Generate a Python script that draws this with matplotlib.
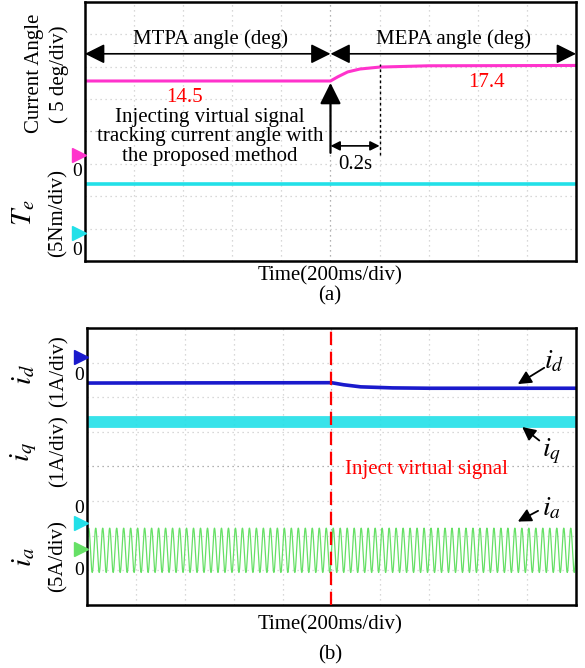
import numpy as np
import matplotlib
matplotlib.use('Agg')
import matplotlib.pyplot as plt

plt.rcParams['font.family'] = ['Liberation Serif', 'DejaVu Serif']
plt.rcParams['mathtext.fontset'] = 'stix'

# Scope traces, y in screen divisions (0..8), time in s (0.2 s/div)
t_angle = [0.0, 1.0, 1.03, 1.07, 1.12, 1.2, 1.4, 2.0]
angle_div = [5.56, 5.56, 5.69, 5.84, 5.93, 5.99, 6.03, 6.04]
t_te = [0.0, 2.0]
te_div = [2.38, 2.38]
marker_a = [3.28, 0.87]          # magenta, cyan ground markers

t_id = [0.0, 1.0, 1.05, 1.12, 1.25, 1.4, 2.0]
id_div = [6.41, 6.42, 6.36, 6.30, 6.27, 6.26, 6.26]
t_iq = [0.0, 2.0]
iq_div = [5.28, 5.28]
ia_center = 1.58
ia_amp = 0.64
ia_freq = 35.0                    # Hz, counted from the trace
marker_b = [7.16, 2.36, 1.61]     # blue, cyan, green ground markers

MAG = '#ff33cc'
CYAN = '#22e0e8'
BLUE = '#1a1acc'
GREEN = '#66e066'
FS = 15


def scope_axes(ax):
    ax.set_xlim(0, 2.0)
    ax.set_ylim(0, 8)
    ax.set_xticks([])
    ax.set_yticks([])
    for s in ax.spines.values():
        s.set_linewidth(1.8)
    for i in range(1, 10):
        c = '#999999' if i == 5 else '#cccccc'
        ax.axvline(i * 0.2, color=c, lw=0.9, ls=(0, (1, 3)), zorder=0)
    for j in range(1, 8):
        c = '#999999' if j == 4 else '#cccccc'
        ax.axhline(j, color=c, lw=0.9, ls=(0, (1, 3)), zorder=0)


def ground_marker(ax, y, color, zero_dy):
    ax.plot([-0.013], [y], marker='>', ms=10, color=color, clip_on=False,
            transform=ax.get_yaxis_transform(), zorder=5)
    ax.text(-0.016, y + zero_dy, '0', transform=ax.get_yaxis_transform(),
            ha='center', va='center', fontsize=14)


fig = plt.figure(figsize=(5.85, 6.68), dpi=100)

# ---------------- (a) ----------------
axa = fig.add_axes([0.1453, 0.6093, 0.8393, 0.3877])
scope_axes(axa)
axa.plot(t_angle, angle_div, color=MAG, lw=2.2)
axa.plot(t_te, te_div, color=CYAN, lw=2.6)
ground_marker(axa, marker_a[0], MAG, -0.52)
ground_marker(axa, marker_a[1], CYAN, -0.55)

big = dict(arrowstyle='<|-|>', color='black', lw=1.2, mutation_scale=30, shrinkA=0, shrinkB=0)
axa.annotate('', xy=(0.0, 6.40), xytext=(1.0, 6.40), arrowprops=big)
axa.annotate('', xy=(1.0, 6.40), xytext=(2.0, 6.40), arrowprops=big)
axa.text(0.51, 6.85, 'MTPA angle (deg)', ha='center', va='center', fontsize=FS)
axa.text(1.5, 6.85, 'MEPA angle (deg)', ha='center', va='center', fontsize=FS)
axa.text(0.407, 5.04, '14.5', color='red', ha='center', va='center', fontsize=FS)
axa.text(1.637, 5.5, '17.4', color='red', ha='center', va='center', fontsize=FS)
axa.text(0.51, 3.83, 'Injecting virtual signal\ntracking current angle with\nthe proposed method',
         ha='center', va='center', fontsize=FS, linespacing=1.05)
axa.annotate('', xy=(1.0, 5.5), xytext=(1.0, 3.34),
             arrowprops=dict(arrowstyle='-|>', color='black', lw=1.6, mutation_scale=32,
                             shrinkA=0, shrinkB=0))
axa.plot([1.2, 1.2], [3.28, 6.09], color='black', lw=1.0, ls=(0, (2, 2)))
axa.annotate('', xy=(1.0, 3.556), xytext=(1.2, 3.556),
             arrowprops=dict(arrowstyle='<|-|>', color='black', lw=1.2, mutation_scale=14,
                             shrinkA=0, shrinkB=0))
axa.text(1.1, 2.97, '0.2s', ha='center', va='center', fontsize=FS)

fig.text(34 / 585, 1 - 73 / 668, 'Current Angle', rotation=90, ha='center', va='center', fontsize=FS)
fig.text(59 / 585, 1 - 74 / 668, '( 5 deg/div)', rotation=90, ha='center', va='center', fontsize=FS)
fig.text(24 / 585, 1 - 213 / 668, r'$T_e$', rotation=90, ha='center', va='center', fontsize=21)
fig.text(58 / 585, 1 - 213 / 668, '(5Nm/div)', rotation=90, ha='center', va='center', fontsize=FS)
fig.text(330 / 585, 1 - 276 / 668, 'Time(200ms/div)', ha='center', va='center', fontsize=FS)
fig.text(330 / 585, 1 - 296 / 668, '(a)', ha='center', va='center', fontsize=FS)

# ---------------- (b) ----------------
axb = fig.add_axes([0.1487, 0.0943, 0.8359, 0.4147])
scope_axes(axb)
axb.plot(t_id, id_div, color=BLUE, lw=2.6)
axb.plot(t_iq, iq_div, color=CYAN, lw=8.5, alpha=0.9)
t_ia = np.linspace(0, 2.0, 6000)
axb.plot(t_ia, ia_center + ia_amp * np.sin(2 * np.pi * ia_freq * t_ia), color=GREEN, lw=0.9)
axb.axvline(1.0, color='red', lw=1.6, ls=(0, (6, 3)), zorder=4)
axb.text(1.39, 3.9, 'Inject virtual signal', color='red', ha='center', va='center', fontsize=FS)

ground_marker(axb, marker_b[0], BLUE, -0.52)
ground_marker(axb, marker_b[1], CYAN, 0.42)
ground_marker(axb, marker_b[2], GREEN, -0.6)

small = dict(arrowstyle='-|>', color='black', lw=1.3, mutation_scale=20, shrinkA=0, shrinkB=0)
axb.annotate('', xy=(1.762, 6.38), xytext=(1.87, 6.85), arrowprops=small)
axb.annotate('', xy=(1.78, 5.14), xytext=(1.85, 4.75), arrowprops=small)
axb.annotate('', xy=(1.762, 2.41), xytext=(1.845, 2.72), arrowprops=small)
axb.text(1.91, 7.02, r'$i_d$', fontsize=20, ha='center', va='center')
axb.text(1.90, 4.45, r'$i_q$', fontsize=20, ha='center', va='center')
axb.text(1.90, 2.78, r'$i_a$', fontsize=20, ha='center', va='center')

fig.text(24 / 585, 1 - 375 / 668, r'$i_d$', rotation=90, ha='center', va='center', fontsize=21)
fig.text(59 / 585, 1 - 371 / 668, '(1A/div)', rotation=90, ha='center', va='center', fontsize=FS)
fig.text(24 / 585, 1 - 452 / 668, r'$i_q$', rotation=90, ha='center', va='center', fontsize=21)
fig.text(59 / 585, 1 - 451 / 668, '(1A/div)', rotation=90, ha='center', va='center', fontsize=FS)
fig.text(24 / 585, 1 - 557 / 668, r'$i_a$', rotation=90, ha='center', va='center', fontsize=21)
fig.text(58 / 585, 1 - 556 / 668, '(5A/div)', rotation=90, ha='center', va='center', fontsize=FS)
fig.text(330 / 585, 1 - 625 / 668, 'Time(200ms/div)', ha='center', va='center', fontsize=FS)
fig.text(330 / 585, 1 - 655 / 668, '(b)', ha='center', va='center', fontsize=FS)

fig.savefig('out.png', dpi=100)
